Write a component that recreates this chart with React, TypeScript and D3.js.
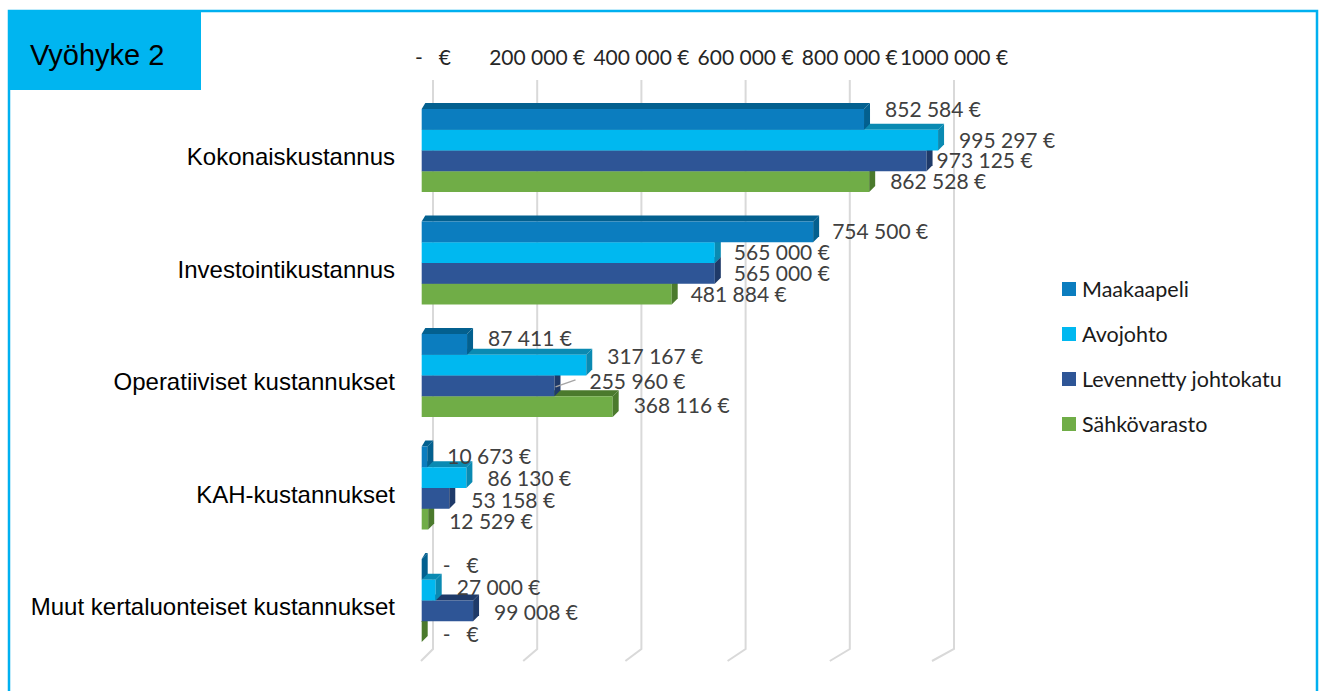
import React from "react";
import * as d3 from "d3";

const title = "Vyöhyke 2";
const categories = [
  "Kokonaiskustannus",
  "Investointikustannus",
  "Operatiiviset kustannukset",
  "KAH-kustannukset",
  "Muut kertaluonteiset kustannukset",
];
const seriesNames = ["Maakaapeli", "Avojohto", "Levennetty johtokatu", "Sähkövarasto"];
const maakaapeli = [852584, 754500, 87411, 10673, 0];
const avojohto = [995297, 565000, 317167, 86130, 27000];
const levennetty = [973125, 565000, 255960, 53158, 99008];
const sahkovarasto = [862528, 481884, 368116, 12529, 0];
const tickValues = [0, 200000, 400000, 600000, 800000, 1000000];
const tickLabels = ["-   €", "200 000 €", "400 000 €", "600 000 €", "800 000 €", "1000 000 €"];

// styling
const fronts = ["#0B7DBF", "#00B8F0", "#2E5596", "#70AD47"];
const darks = ["#03608F", "#0A8AB2", "#1F3A69", "#4B7A2D"];
// label nudges [category][series] -> dx, dy, leader
const labelNudge: { dx: number; dy: number; leader?: boolean }[][] = [
  [{ dx: 0, dy: -10 }, { dx: 0, dy: 0 }, { dx: -11, dy: 0 }, { dx: 0, dy: 0 }],
  [{ dx: -2, dy: 0 }, { dx: -2, dy: 0 }, { dx: -2, dy: 0 }, { dx: -2, dy: 0 }],
  [{ dx: 0, dy: -6 }, { dx: 0, dy: -9 }, { dx: 14, dy: -4, leader: true }, { dx: 0, dy: -1 }],
  [{ dx: -1, dy: 0 }, { dx: 0, dy: 1 }, { dx: 1, dy: 2 }, { dx: 0, dy: 2 }],
  [{ dx: 0, dy: -4 }, { dx: 0, dy: -3 }, { dx: 0, dy: 2 }, { dx: 0, dy: 3 }],
];

const W = 1321;
const H = 691;
const DX = 6;
const DY = -6;
const calibri = "Lato, 'Open Sans', sans-serif";
const arial = "'Liberation Sans', Arial, sans-serif";

function fmt(v: number) {
  if (v === 0) return "-   €";
  const s = d3.format(",")(v).replace(/,/g, " ");
  return s + " €";
}

export default function App() {
  const series = [maakaapeli, avojohto, levennetty, sahkovarasto];
  const xBar = d3.scaleLinear().domain([0, 1000000]).range([421.7, 940.5]);
  const xBack = d3.scaleLinear().domain([0, 1000000]).range([433, 954]);
  const xFloor = d3.scaleLinear().domain([0, 1000000]).range([421, 932]);
  const yCat = d3
    .scaleBand<string>()
    .domain(categories)
    .range([94.25, 94.25 + 562.5])
    .paddingInner(0.2622)
    .paddingOuter(0.1311);
  const ySer = d3
    .scaleBand<string>()
    .domain(seriesNames)
    .range([0, yCat.bandwidth()]);
  const bh = ySer.bandwidth();
  const gridTop = 80;
  const gridBottom = 649;
  const floorFront = 661;

  const bars: React.ReactNode[] = [];
  const labels: React.ReactNode[] = [];
  categories.forEach((cat, ci) => {
    const gy = yCat(cat)!;
    for (let si = seriesNames.length - 1; si >= 0; si--) {
      const v = series[si][ci];
      const y = gy + ySer(seriesNames[si])!;
      const x0 = xBar(0);
      const x1 = xBar(v);
      const top = `M${x0},${y} L${x0 + DX * 0.6},${y + DY} L${x1 + DX},${y + DY} L${x1},${y} Z`;
      const side = `M${x1},${y} L${x1 + DX},${y + DY} L${x1 + DX},${y + DY + bh} L${x1},${y + bh} Z`;
      bars.push(
        <g key={`b-${ci}-${si}`}>
          <path d={top} fill={darks[si]} />
          <rect x={x0} y={y} width={x1 - x0} height={bh} fill={fronts[si]} />
          <path d={side} fill={darks[si]} />
        </g>
      );
      const n = labelNudge[ci][si];
      const lx = x1 + DX + 15 + n.dx;
      const ly = y + bh / 2 + n.dy;
      labels.push(
        <g key={`l-${ci}-${si}`}>
          {n.leader && (
            <line x1={x1 + 1} y1={y + bh / 2 + 1} x2={lx - 14} y2={ly - 2} stroke="#A6A6A6" strokeWidth={1.5} />
          )}
          <text
            x={lx}
            y={ly}
            dy="0.36em"
            fontFamily={calibri}
            fontSize={21}
            fill="#404040"
            style={{ whiteSpace: "pre" }}
          >
            {fmt(v)}
          </text>
        </g>
      );
    }
  });

  return (
    <svg width={W} height={H} style={{ position: "absolute", left: 0, top: 0, background: "#fff" }}>
      <rect x={0} y={0} width={W} height={H} fill="#fff" />
      {/* outer frame */}
      <path d={`M9,${H} L9,11 L1317,11 L1317,${H}`} fill="none" stroke="#00B0F0" strokeWidth={2.5} />
      <rect x={8} y={10} width={193} height={80} fill="#00B5F0" />
      <text x={30} y={55} dy="0.36em" fontFamily={arial} fontSize={29} fill="#000">
        {title}
      </text>

      {/* gridlines */}
      {tickValues.map((t) => (
        <path
          key={`g-${t}`}
          d={`M${xBack(t)},${gridTop} L${xBack(t)},${gridBottom} L${xFloor(t)},${floorFront}`}
          fill="none"
          stroke="#D9D9D9"
          strokeWidth={2}
        />
      ))}
      {/* tick labels */}
      {tickValues.map((t, i) => (
        <text
          key={`t-${t}`}
          x={xBack(t)}
          y={57}
          dy="0.36em"
          textAnchor="middle"
          fontFamily={calibri}
          fontSize={21}
          fill="#262626"
          style={{ whiteSpace: "pre" }}
        >
          {tickLabels[i]}
        </text>
      ))}

      {bars}
      {labels}

      {/* category labels */}
      {categories.map((c) => (
        <text
          key={`c-${c}`}
          x={395}
          y={yCat(c)! + yCat.bandwidth() / 2 + 6}
          dy="0.36em"
          textAnchor="end"
          fontFamily={arial}
          fontSize={24}
          fill="#000"
        >
          {c}
        </text>
      ))}

      {/* legend */}
      {seriesNames.map((s, i) => (
        <g key={`lg-${s}`} transform={`translate(1062, ${289 + i * 45})`}>
          <rect x={0} y={-7} width={14} height={14} fill={fronts[i]} />
          <text x={20} y={0} dy="0.36em" fontFamily={calibri} fontSize={21.5} fill="#1a1a1a">
            {s}
          </text>
        </g>
      ))}
    </svg>
  );
}
